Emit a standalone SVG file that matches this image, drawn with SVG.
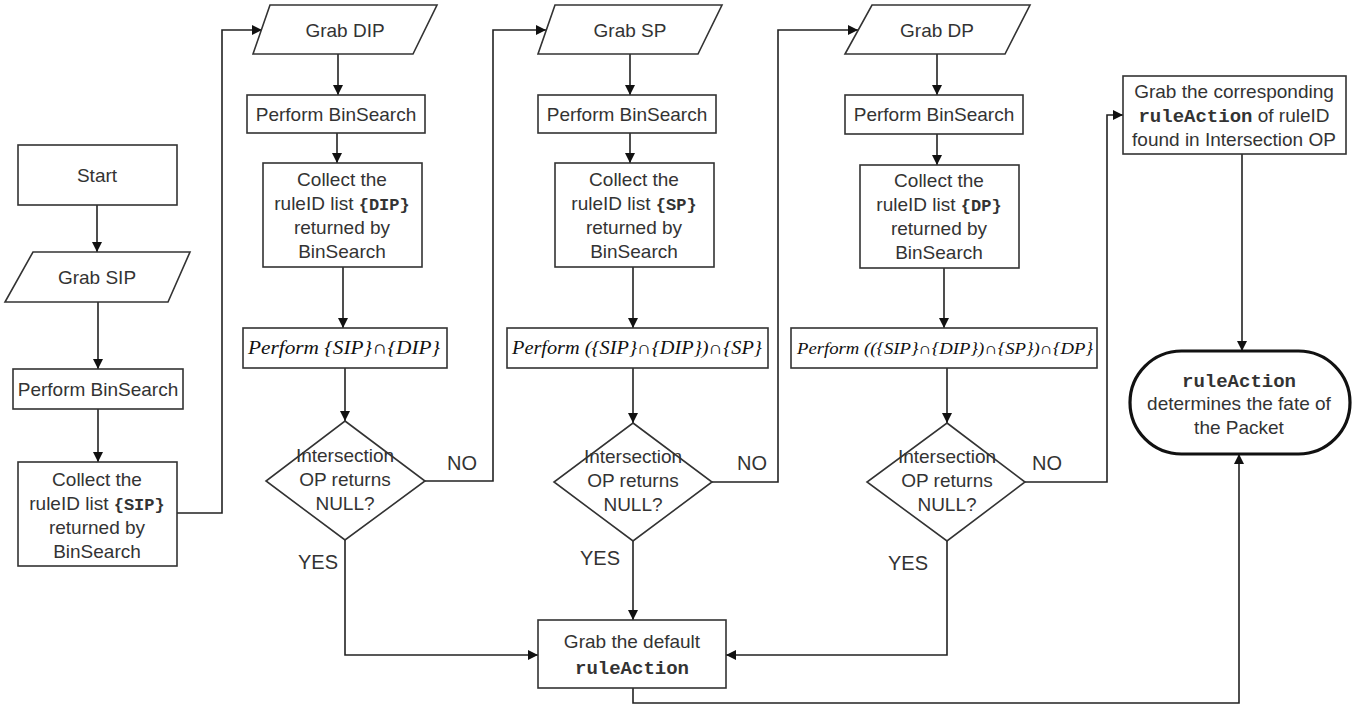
<svg xmlns="http://www.w3.org/2000/svg" width="1367" height="709" viewBox="0 0 1367 709">
<style>
.n{fill:#fff;stroke:#333;stroke-width:1.6}
.t{font-family:"Liberation Sans",Arial,sans-serif;font-size:19px;fill:#333;text-anchor:middle}
.m{font-family:"Liberation Mono","Courier New",monospace;font-weight:bold;fill:#333}
.f{font-family:"Liberation Serif","Times New Roman",serif;font-style:italic;fill:#111}
.c{fill:none;stroke:#222;stroke-width:1.6}
.l{font-family:"Liberation Sans",Arial,sans-serif;font-size:20px;fill:#333;text-anchor:middle}
</style>
<defs>
<marker id="ah" viewBox="0 0 10 10" refX="10" refY="5" markerWidth="11" markerHeight="10" markerUnits="userSpaceOnUse" orient="auto"><path d="M0,0 L10,5 L0,10 z" fill="#111"/></marker>
</defs>
<rect width="1367" height="709" fill="#fff"/>
<g id="connectors" class="c" marker-end="url(#ah)">
<path d="M97,205 V252"/>
<path d="M98,302 V369"/>
<path d="M98,409 V462"/>
<path d="M177,513 H222 V30 H262"/>
<path d="M338,54 V95"/>
<path d="M337,133 V163"/>
<path d="M343,267 V328"/>
<path d="M345,368 V421"/>
<path d="M425,481 H493 V30 H546"/>
<path d="M345,540 V655 H538"/>
<path d="M630,54 V95"/>
<path d="M630,133 V163"/>
<path d="M633,267 V328"/>
<path d="M633,368 V423"/>
<path d="M712,482 H778 V30 H858"/>
<path d="M633,541 V620"/>
<path d="M937,54 V95"/>
<path d="M937,134 V165"/>
<path d="M944,268 V328"/>
<path d="M947,368 V423"/>
<path d="M1025,482 H1107 V115 H1123"/>
<path d="M947,541 V655 H726"/>
<path d="M1242,154 V351"/>
<path d="M633,688 V703 H1239 V454"/>
</g>
<g id="labels">
<text class="l" x="462" y="470">NO</text>
<text class="l" x="752" y="470">NO</text>
<text class="l" x="1047" y="470">NO</text>
<text class="l" x="318" y="569">YES</text>
<text class="l" x="600" y="565">YES</text>
<text class="l" x="908" y="570">YES</text>
</g>
<g id="start"><rect class="n" x="18" y="145" width="159" height="60"/><text class="t" x="97" y="182">Start</text></g>
<g id="grab-sip"><polygon class="n" points="33,252 190,252 168,302 5,302"/><text class="t" x="97" y="284">Grab SIP</text></g>
<g id="bin-sip"><rect class="n" x="13" y="369" width="170" height="40"/><text class="t" x="98" y="396">Perform BinSearch</text></g>
<g id="collect-sip"><rect class="n" x="18" y="462" width="159" height="104"/>
<text class="t" x="97" y="486">Collect the</text>
<text class="t" x="97" y="510">ruleID list <tspan class="m" font-size="17">{SIP}</tspan></text>
<text class="t" x="97" y="534">returned by</text>
<text class="t" x="97" y="558">BinSearch</text></g>
<g id="grab-dip"><polygon class="n" points="270,5 437,5 413,54 253,54"/><text class="t" x="345" y="37">Grab DIP</text></g>
<g id="bin-dip"><rect class="n" x="247" y="95" width="178" height="38"/><text class="t" x="336" y="121">Perform BinSearch</text></g>
<g id="collect-dip"><rect class="n" x="263" y="163" width="159" height="104"/>
<text class="t" x="342" y="186">Collect the</text>
<text class="t" x="342" y="210">ruleID list <tspan class="m" font-size="17">{DIP}</tspan></text>
<text class="t" x="342" y="234">returned by</text>
<text class="t" x="342" y="258">BinSearch</text></g>
<g id="op-dip"><rect class="n" x="243" y="328" width="204" height="40"/><text class="f" x="248" y="354" font-size="19" textLength="192" lengthAdjust="spacingAndGlyphs">Perform  {SIP}∩{DIP}</text></g>
<g id="dec-dip"><polygon class="n" points="345,421 425,481 345,540 266,481"/>
<text class="t" x="345" y="462">Intersection</text><text class="t" x="345" y="486">OP returns</text><text class="t" x="345" y="510">NULL?</text></g>
<g id="grab-sp"><polygon class="n" points="555,5 722,5 698,54 538,54"/><text class="t" x="630" y="37">Grab SP</text></g>
<g id="bin-sp"><rect class="n" x="538" y="95" width="178" height="38"/><text class="t" x="627" y="121">Perform BinSearch</text></g>
<g id="collect-sp"><rect class="n" x="555" y="163" width="159" height="104"/>
<text class="t" x="634" y="186">Collect the</text>
<text class="t" x="634" y="210">ruleID list <tspan class="m" font-size="17">{SP}</tspan></text>
<text class="t" x="634" y="234">returned by</text>
<text class="t" x="634" y="258">BinSearch</text></g>
<g id="op-sp"><rect class="n" x="507" y="328" width="261" height="40"/><text class="f" x="512" y="354" font-size="18" textLength="250" lengthAdjust="spacingAndGlyphs">Perform   ({SIP}∩{DIP})∩{SP}</text></g>
<g id="dec-sp"><polygon class="n" points="633,423 712,482 633,541 554,482"/>
<text class="t" x="633" y="463">Intersection</text><text class="t" x="633" y="487">OP returns</text><text class="t" x="633" y="511">NULL?</text></g>
<g id="grab-dp"><polygon class="n" points="872,5 1030,5 1005,54 845,54"/><text class="t" x="937" y="37">Grab DP</text></g>
<g id="bin-dp"><rect class="n" x="845" y="95" width="178" height="39"/><text class="t" x="934" y="121">Perform BinSearch</text></g>
<g id="collect-dp"><rect class="n" x="860" y="165" width="159" height="103"/>
<text class="t" x="939" y="187">Collect the</text>
<text class="t" x="939" y="211">ruleID list <tspan class="m" font-size="17">{DP}</tspan></text>
<text class="t" x="939" y="235">returned by</text>
<text class="t" x="939" y="259">BinSearch</text></g>
<g id="op-dp"><rect class="n" x="791" y="328" width="306" height="40"/><text class="f" x="797" y="354" font-size="16" textLength="296" lengthAdjust="spacingAndGlyphs">Perform   (({SIP}∩{DIP})∩{SP})∩{DP}</text></g>
<g id="dec-dp"><polygon class="n" points="947,423 1025,482 947,541 867,482"/>
<text class="t" x="947" y="463">Intersection</text><text class="t" x="947" y="487">OP returns</text><text class="t" x="947" y="511">NULL?</text></g>
<g id="grab-action"><rect class="n" x="1123" y="76" width="223" height="78"/>
<text class="t" x="1234" y="98">Grab the corresponding</text>
<text class="t" x="1234" y="122"><tspan class="m" font-size="19">ruleAction</tspan> of ruleID</text>
<text class="t" x="1234" y="146">found in Intersection OP</text></g>
<g id="default-action"><rect class="n" x="538" y="620" width="188" height="68"/>
<text class="t" x="632" y="648">Grab the default</text>
<text class="t" x="632" y="674"><tspan class="m" font-size="19">ruleAction</tspan></text></g>
<g id="end"><rect x="1130" y="351" width="220" height="103" rx="51.5" ry="51.5" fill="#fff" stroke="#111" stroke-width="3.2"/>
<text class="t" x="1239" y="387"><tspan class="m" font-size="19">ruleAction</tspan></text>
<text class="t" x="1239" y="410">determines the fate of</text>
<text class="t" x="1239" y="434">the Packet</text></g>
</svg>
